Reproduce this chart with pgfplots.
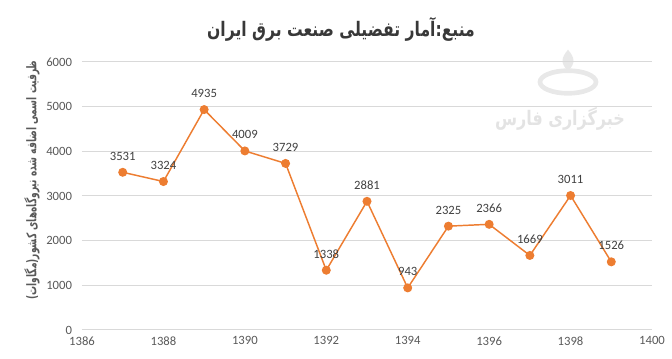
\documentclass[border=0pt]{standalone}
\usepackage{pgfplots}
\pgfplotsset{compat=1.18}
\usepackage{fontspec}
\setmainfont{Carlito}
\newfontfamily\arabicfont[Script=Arabic, FakeStretch=0.8]{DejaVu Sans}
\newfontfamily\arabictitle[Script=Arabic, FakeStretch=0.78]{DejaVu Sans}
\newfontfamily\arabicnarrow[Script=Arabic, FakeStretch=0.68]{DejaVu Sans}
\TeXXeTstate=1
\definecolor{exorange}{HTML}{ED7D31}
\definecolor{txtgray}{HTML}{595959}
\definecolor{gridgray}{HTML}{D9D9D9}
\begin{document}
\begin{tikzpicture}
\path[use as bounding box] (0,0) rectangle (504pt,269.25pt);
% watermark logo (faint)
\draw[black!9, line width=3.5pt] (426pt,207.75pt) ellipse (21pt and 8.5pt);
\fill[black!9] (426pt,232pt) .. controls (431pt,226pt) and (432pt,222pt) .. (426pt,216pt) .. controls (420pt,222pt) and (421pt,226pt) .. cycle;
\node[text=black!11, font=\arabicfont\bfseries\fontsize{15}{17}\selectfont] at (420pt,180pt) {\beginR خبرگزاری فارس\endR};
\begin{axis}[
  at={(61.5pt,21.75pt)}, anchor=south west,
  width=427.5pt, height=201pt, scale only axis,
  xmin=1386, xmax=1400, ymin=0, ymax=6000,
  xtick={1386,1388,...,1400}, ytick={0,1000,...,6000},
  axis line style={draw=none},
  ymajorgrids, grid style={draw=gridgray,line width=0.75pt},
  major tick length=0pt,
  tick label style={font=\fontsize{9.5}{11}\selectfont, text=txtgray},
  /pgf/number format/1000 sep={},
  /pgf/number format/assume math mode=true,
  yticklabel style={xshift=-4pt},
  xticklabel style={yshift=-1.5pt},
  clip=false,
  nodes near coords,
  every node near coord/.append style={font=\fontsize{9.5}{11}\selectfont, text=black!75, yshift=5pt},
]
\addplot[color=exorange, line width=1.1pt, mark=*, mark size=2.8pt, mark options={fill=exorange, draw=exorange}] coordinates {
(1387,3531) (1388,3324) (1389,4935) (1390,4009) (1391,3729) (1392,1338) (1393,2881)
(1394,943) (1395,2325) (1396,2366) (1397,1669) (1398,3011) (1399,1526)
};
\end{axis}
\node[text=txtgray!120, font=\arabictitle\bfseries\fontsize{15}{17}\selectfont] at (255.75pt,247pt) {\beginR منبع:آمار تفضیلی صنعت برق ایران\endR};
\node[rotate=90, text=txtgray, font=\arabicnarrow\bfseries\fontsize{10}{12}\selectfont] at (24pt,134.25pt) {\beginR ظرفیت اسمی اضافه شده نیروگاه‌های کشور(مگاوات)\endR};
\end{tikzpicture}
\end{document}
